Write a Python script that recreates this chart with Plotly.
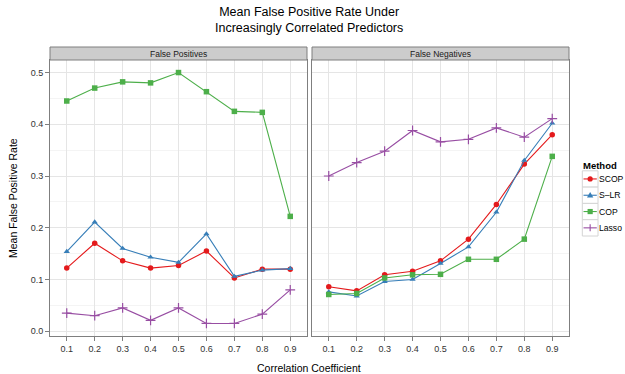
import plotly.graph_objects as go

W, H = 625, 374
corr = [0.1, 0.2, 0.3, 0.4, 0.5, 0.6, 0.7, 0.8, 0.9]
corr_labels = ["0.1", "0.2", "0.3", "0.4", "0.5", "0.6", "0.7", "0.8", "0.9"]
panels = ["False Positives", "False Negatives"]
methods = ["SCOP", "S\u2013LR", "COP", "Lasso"]

fp_scop = [0.122, 0.170, 0.136, 0.122, 0.127, 0.155, 0.103, 0.120, 0.120]
fp_slr = [0.154, 0.211, 0.160, 0.143, 0.133, 0.188, 0.106, 0.118, 0.121]
fp_cop = [0.445, 0.470, 0.482, 0.480, 0.500, 0.463, 0.425, 0.423, 0.222]
fp_lasso = [0.035, 0.030, 0.045, 0.021, 0.045, 0.015, 0.015, 0.033, 0.080]

fn_scop = [0.086, 0.078, 0.109, 0.116, 0.136, 0.178, 0.245, 0.323, 0.380]
fn_slr = [0.076, 0.068, 0.096, 0.100, 0.131, 0.163, 0.230, 0.330, 0.402]
fn_cop = [0.071, 0.073, 0.103, 0.109, 0.110, 0.139, 0.139, 0.178, 0.338]
fn_lasso = [0.300, 0.326, 0.348, 0.388, 0.366, 0.371, 0.393, 0.375, 0.411]

colors = ["#E41A1C", "#377EB8", "#4DAF4A", "#984EA3"]
symbols = ["circle", "triangle-up", "square", "cross-thin"]

FONT = "Liberation Sans, Arial, Helvetica, sans-serif"

def px_x(p):
    return p / W

def px_y(p):
    return 1 - p / H

fig = go.Figure()
data = [
    [fp_scop, fp_slr, fp_cop, fp_lasso],
    [fn_scop, fn_slr, fn_cop, fn_lasso],
]
for pi, series in enumerate(data):
    xa = "x" if pi == 0 else "x2"
    ya = "y" if pi == 0 else "y2"
    for mi, vals in enumerate(series):
        sym = symbols[mi]
        marker = dict(color=colors[mi], symbol=sym, size=5.5)
        if sym == "cross-thin":
            marker = dict(color=colors[mi], symbol=sym, size=7,
                          line=dict(color=colors[mi], width=1.2))
        fig.add_trace(go.Scatter(
            x=corr, y=vals, xaxis=xa, yaxis=ya,
            mode="lines+markers", name=methods[mi],
            showlegend=False,
            line=dict(color=colors[mi], width=1.1),
            marker=marker,
        ))

allv = [v for s in data for arr in s for v in arr]
lo, hi = min(allv), max(allv)
pad = (hi - lo) * 0.05
yr = [lo - pad, hi + pad]

xl = [50, 307]
xr = [312, 569]
ytop, ybot = 60, 336

common_x = dict(
    range=[0.04, 0.96], tickvals=corr, ticktext=corr_labels,
    showgrid=True, gridcolor="#e5e5e5", gridwidth=1,
    showline=True, mirror=True, linecolor="#7f7f7f", linewidth=1,
    ticks="outside", ticklen=4, tickcolor="#7f7f7f", tickwidth=1,
    tickfont=dict(family=FONT, size=9, color="#333333"),
    zeroline=False, fixedrange=True,
)
common_y = dict(
    domain=[px_y(ybot), px_y(ytop)], range=yr,
    tickvals=[0, 0.1, 0.2, 0.3, 0.4, 0.5], tickformat=".1f",
    showgrid=True, gridcolor="#e5e5e5", gridwidth=1,
    minor=dict(tickvals=[0.05, 0.15, 0.25, 0.35, 0.45], showgrid=True,
               gridcolor="#f4f4f4", gridwidth=1, ticks=""),
    showline=True, mirror=True, linecolor="#7f7f7f", linewidth=1,
    tickcolor="#7f7f7f", tickwidth=1,
    tickfont=dict(family=FONT, size=9, color="#333333"),
    zeroline=False, fixedrange=True,
)
fig.update_layout(
    width=W, height=H,
    margin=dict(l=0, r=0, t=0, b=0, autoexpand=False),
    paper_bgcolor="white", plot_bgcolor="white",
    xaxis=dict(domain=[px_x(xl[0]), px_x(xl[1])], anchor="y", **common_x),
    xaxis2=dict(domain=[px_x(xr[0]), px_x(xr[1])], anchor="y2", **common_x),
    yaxis=dict(anchor="x", ticks="outside", ticklen=4, **common_y),
    yaxis2=dict(anchor="x2", ticks="", showticklabels=False, **common_y),
    showlegend=False,
)

# strips
for (a, b), label in zip([xl, xr], panels):
    fig.add_shape(type="rect", xref="paper", yref="paper",
                  x0=px_x(a), x1=px_x(b), y0=px_y(ytop), y1=px_y(47),
                  fillcolor="#cccccc", line=dict(color="#7f7f7f", width=1))
    fig.add_annotation(xref="paper", yref="paper", x=px_x((a + b) / 2), y=px_y(53.5),
                       xanchor="center", yanchor="middle",
                       text=label, showarrow=False,
                       font=dict(family=FONT, size=8.5, color="#1a1a1a"))

# titles
fig.add_annotation(xref="paper", yref="paper", x=px_x(309), y=px_y(20),
                   xanchor="center", yanchor="middle",
                   text="Mean False Positive Rate Under<br>Increasingly Correlated Predictors",
                   showarrow=False, font=dict(family=FONT, size=12.5, color="black"))
fig.add_annotation(xref="paper", yref="paper", x=px_x(309), y=px_y(368),
                   xanchor="center", yanchor="middle",
                   text="Correlation Coefficient", showarrow=False,
                   font=dict(family=FONT, size=10.5, color="black"))
fig.add_annotation(xref="paper", yref="paper", x=px_x(13), y=px_y(198),
                   xanchor="center", yanchor="middle",
                   text="Mean False Positive Rate", showarrow=False, textangle=-90,
                   font=dict(family=FONT, size=10.5, color="black"))

# legend (drawn as ggplot-style key boxes)
fig.add_annotation(xref="paper", yref="paper", x=px_x(581.5), y=px_y(165.5),
                   xanchor="left", yanchor="middle", borderpad=0,
                   text="<b>Method</b>", showarrow=False,
                   font=dict(family=FONT, size=9.5, color="black"))
kx0, kx1 = 582.3, 598.0
ktop, kh = 170.8, 16.3
for i, m in enumerate(methods):
    y0 = ktop + i * kh
    cy = y0 + kh / 2
    cx = (kx0 + kx1) / 2
    c = colors[i]
    fig.add_shape(type="rect", xref="paper", yref="paper",
                  x0=px_x(kx0), x1=px_x(kx1), y0=px_y(y0 + kh), y1=px_y(y0),
                  fillcolor="white", line=dict(color="#d4d4d4", width=1))
    fig.add_shape(type="line", xref="paper", yref="paper",
                  x0=px_x(kx0 + 1.2), x1=px_x(kx1 - 1.2), y0=px_y(cy), y1=px_y(cy),
                  line=dict(color=c, width=1.1))
    r = 2.6
    if symbols[i] == "circle":
        fig.add_shape(type="circle", xref="paper", yref="paper",
                      x0=px_x(cx - r), x1=px_x(cx + r), y0=px_y(cy + r), y1=px_y(cy - r),
                      fillcolor=c, line=dict(color=c, width=0))
    elif symbols[i] == "square":
        fig.add_shape(type="rect", xref="paper", yref="paper",
                      x0=px_x(cx - r), x1=px_x(cx + r), y0=px_y(cy + r), y1=px_y(cy - r),
                      fillcolor=c, line=dict(color=c, width=0))
    elif symbols[i] == "triangle-up":
        path = "M {:.5f} {:.5f} L {:.5f} {:.5f} L {:.5f} {:.5f} Z".format(
            px_x(cx), px_y(cy - 3.2), px_x(cx - 3.2), px_y(cy + 2.2),
            px_x(cx + 3.2), px_y(cy + 2.2))
        fig.add_shape(type="path", xref="paper", yref="paper", path=path,
                      fillcolor=c, line=dict(color=c, width=0))
    else:
        fig.add_shape(type="line", xref="paper", yref="paper",
                      x0=px_x(cx), x1=px_x(cx), y0=px_y(cy - 3.5), y1=px_y(cy + 3.5),
                      line=dict(color=c, width=1.1))
    fig.add_annotation(xref="paper", yref="paper", x=px_x(599), y=px_y(cy),
                       xanchor="left", yanchor="middle", text=m, showarrow=False,
                       borderpad=0, borderwidth=0,
                       font=dict(family=FONT, size=8.6, color="black"))

fig.write_html("out.html")
